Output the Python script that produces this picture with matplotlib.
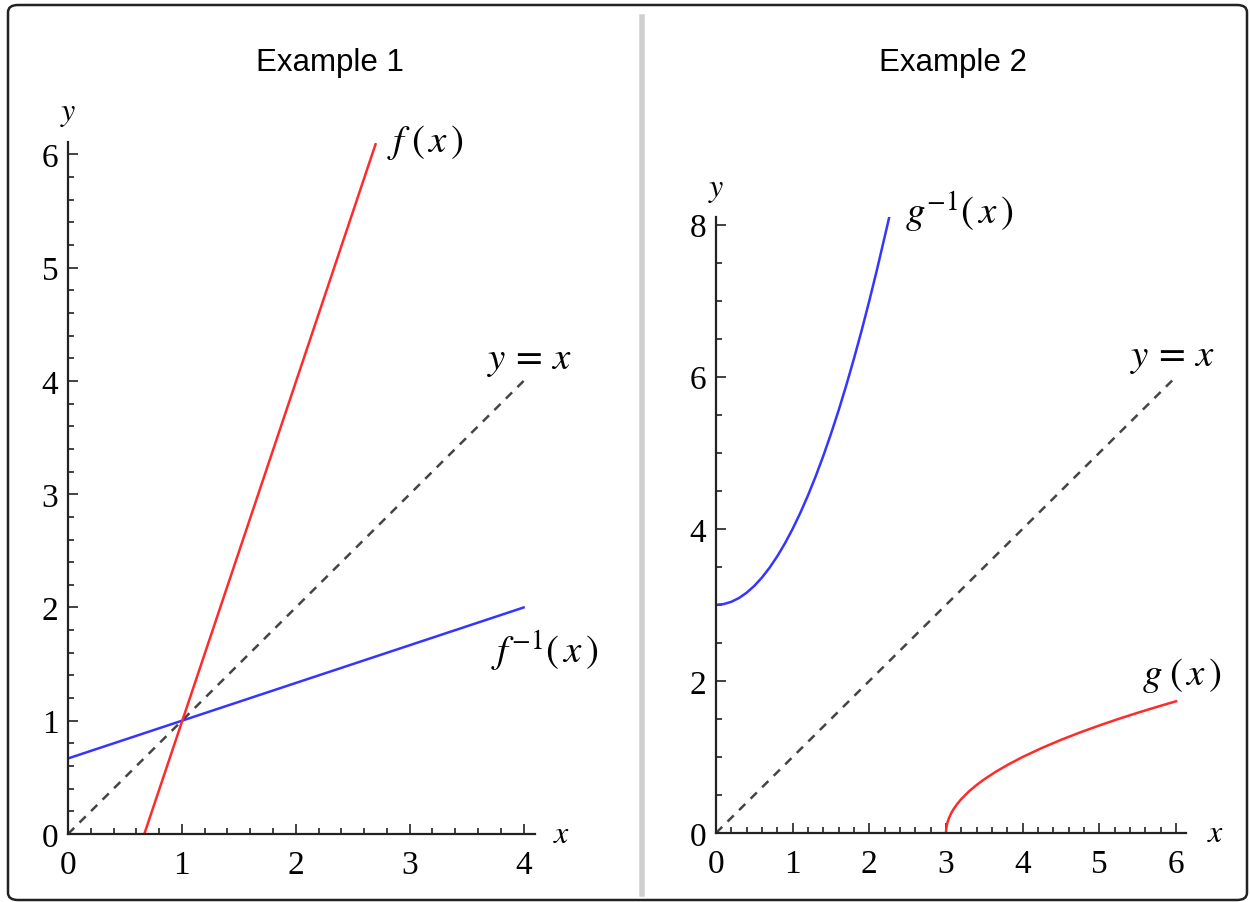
import matplotlib.pyplot as plt
from matplotlib.patches import FancyBboxPatch
from matplotlib.lines import Line2D
from matplotlib.ticker import MultipleLocator

plt.rcParams['mathtext.fontset'] = 'stix'

# Example 1 data (lines)
f_x = [0.67, 2.70]
f_y = [0.0, 6.09]
finv_x = [0.0, 4.0]
finv_y = [0.667, 2.0]
diag1_x = [0.0, 4.0]
diag1_y = [0.0, 4.0]

# Example 2 data
g_x = [3.0, 3.002, 3.01, 3.02, 3.04, 3.07, 3.1, 3.15, 3.2, 3.3, 3.4, 3.5,
       3.65, 3.8, 4.0, 4.25, 4.5, 4.75, 5.0, 5.25, 5.5, 5.75, 6.0]
g_y = [0.0, 0.045, 0.1, 0.141, 0.2, 0.265, 0.316, 0.387, 0.447, 0.548, 0.632, 0.707,
       0.806, 0.894, 1.0, 1.118, 1.225, 1.323, 1.414, 1.5, 1.581, 1.658, 1.732]
ginv_x = [0.0, 0.1, 0.2, 0.3, 0.4, 0.5, 0.6, 0.7, 0.8, 0.9, 1.0, 1.1, 1.2,
          1.3, 1.4, 1.5, 1.6, 1.7, 1.8, 1.9, 2.0, 2.1, 2.2, 2.26]
ginv_y = [3.0, 3.01, 3.04, 3.09, 3.16, 3.25, 3.36, 3.49, 3.64, 3.81, 4.0, 4.21, 4.44,
          4.69, 4.96, 5.25, 5.56, 5.89, 6.24, 6.61, 7.0, 7.41, 7.84, 8.1]
diag2_x = [0.0, 6.0]
diag2_y = [0.0, 6.0]

titles = ['Example 1', 'Example 2']

W, H = 1250, 903
fig = plt.figure(figsize=(12.5, 9.03), dpi=100)


def px_box(x0, x1, y0, y1):
    # pixel coords (y from top) -> figure fraction rect
    return [x0 / W, (H - y0) / H, (x1 - x0) / W, (y0 - y1) / H]


def style_axes(ax, xmaj, ymaj, xmin, ymin):
    for s in ['top', 'right']:
        ax.spines[s].set_visible(False)
    for s in ['left', 'bottom']:
        ax.spines[s].set_linewidth(1.6)
        ax.spines[s].set_color('#222222')
    ax.xaxis.set_major_locator(MultipleLocator(xmaj))
    ax.xaxis.set_minor_locator(MultipleLocator(xmin))
    ax.yaxis.set_major_locator(MultipleLocator(ymaj))
    ax.yaxis.set_minor_locator(MultipleLocator(ymin))
    ax.tick_params(which='both', direction='in', color='#222222', width=1.2)
    ax.tick_params(which='major', length=7)
    ax.tick_params(which='minor', length=4.5)
    ax.tick_params(axis='x', which='major', pad=11)
    ax.tick_params(axis='y', which='major', pad=7)
    for lab in ax.get_xticklabels() + ax.get_yticklabels():
        lab.set_fontfamily('Liberation Serif')
        lab.set_fontsize(24)
    ax.patch.set_alpha(0)


lw = 1.8
red = '#ff2a2a'
blue = '#3535ff'
dash = '#444444'
lab_kw = dict(fontsize=28, va='center', ha='left')

# ---- Example 1 ----
ax1 = fig.add_axes(px_box(68, 535, 835, 143))
ax1.plot(diag1_x, diag1_y, color=dash, lw=1.8, dashes=(3.5, 3))
ax1.plot(finv_x, finv_y, color=blue, lw=lw)
ax1.plot(f_x, f_y, color=red, lw=lw)
ax1.set_xlim(0, 4.10)
ax1.set_ylim(0, 6.11)
style_axes(ax1, 1, 1, 0.2, 0.2)
ax1.text(2.80, 6.11, r'$f\;(\,x\,)$', clip_on=False, **lab_kw)
ax1.text(3.68, 4.19, r'$y\,=\,x$', clip_on=False, **lab_kw)
ax1.text(3.71, 1.62, r'$f^{-1}(\,x\,)$', clip_on=False, **lab_kw)
ax1.text(4.33, 0.0, r'$x$', fontsize=23, va='center', ha='center')
ax1.text(0.0, 6.37, r'$y$', fontsize=23, va='center', ha='center')

# ---- Example 2 ----
ax2 = fig.add_axes(px_box(716, 1186, 834, 218))
ax2.plot(diag2_x, diag2_y, color=dash, lw=1.8, dashes=(3.5, 3))
ax2.plot(ginv_x, ginv_y, color=blue, lw=lw)
ax2.plot(g_x, g_y, color=red, lw=lw)
ax2.set_xlim(0, 6.13)
ax2.set_ylim(0, 8.1)
style_axes(ax2, 1, 2, 0.2, 0.5)
ax2.text(2.47, 8.18, r'$g^{-1}(\,x\,)$', clip_on=False, **lab_kw)
ax2.text(5.40, 6.27, r'$y\,=\,x$', clip_on=False, **lab_kw)
ax2.text(5.55, 2.09, r'$g\;(\,x\,)$', clip_on=False, **lab_kw)
ax2.text(6.52, 0.0, r'$x$', fontsize=23, va='center', ha='center')
ax2.text(0.0, 8.48, r'$y$', fontsize=23, va='center', ha='center')

# titles
fig.text(330 / W, 1 - 63 / H, titles[0], ha='center', va='center',
         fontsize=22.5, family='Liberation Sans')
fig.text(953 / W, 1 - 63 / H, titles[1], ha='center', va='center',
         fontsize=22.5, family='Liberation Sans')

# separator and outer rounded frame
fig.add_artist(Line2D([642 / W, 642 / W], [1 - 18 / H, 1 - 895 / H],
                      transform=fig.transFigure, color='#cfcfcf', lw=4))
frame = FancyBboxPatch((8 / W, 1 - 901 / H), 1239 / W, 895 / H,
                       boxstyle='round,pad=0,rounding_size=0.008',
                       transform=fig.transFigure, fill=False,
                       edgecolor='#222222', lw=1.8)
fig.add_artist(frame)

fig.savefig('out.png', dpi=100)
